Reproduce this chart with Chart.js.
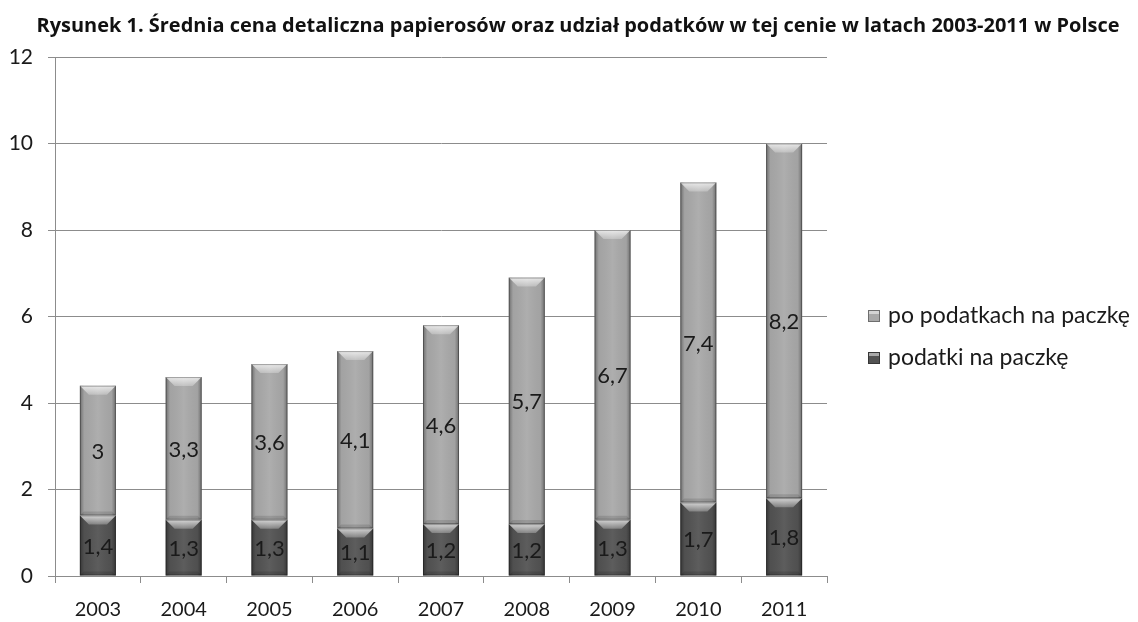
<!DOCTYPE html>
<html>
<head>
<meta charset="utf-8">
<script src="https://cdn.jsdelivr.net/npm/chart.js@4/dist/chart.umd.min.js"></script>
<style>
  html, body { margin: 0; padding: 0; background: #fff; }
  #wrap { width: 1138px; height: 622px; position: relative; }
</style>
</head>
<body>
<div id="wrap"><canvas id="chart" width="1138" height="622"></canvas></div>
<script>
// ===== DATA =====
const years = ["2003", "2004", "2005", "2006", "2007", "2008", "2009", "2010", "2011"];
const taxes = [1.4, 1.3, 1.3, 1.1, 1.2, 1.2, 1.3, 1.7, 1.8];          // podatki na paczkę
const afterTaxes = [3, 3.3, 3.6, 4.1, 4.6, 5.7, 6.7, 7.4, 8.2];       // po podatkach na paczkę
const titleText = "Rysunek 1. Średnia cena detaliczna papierosów oraz udział podatków w tej cenie w latach 2003-2011 w Polsce";

const labelFont = "Lato, 'Open Sans', sans-serif";

// bevel look like the office 3d bars
const bevelPlugin = {
  id: "bevel",
  afterDatasetDraw(chart, args) {
    const ctx = chart.ctx;
    const meta = args.meta;
    meta.data.forEach((bar) => {
      const w = bar.width;
      const left = bar.x - w / 2;
      const top = Math.min(bar.y, bar.base);
      const h = Math.abs(bar.base - bar.y);
      const b = Math.min(9, h / 2);
      ctx.save();
      // side shading
      const g = ctx.createLinearGradient(left, 0, left + w, 0);
      g.addColorStop(0, "rgba(0,0,0,0.35)");
      g.addColorStop(0.12, "rgba(0,0,0,0.04)");
      g.addColorStop(0.5, "rgba(255,255,255,0.06)");
      g.addColorStop(0.88, "rgba(0,0,0,0.04)");
      g.addColorStop(1, "rgba(0,0,0,0.35)");
      ctx.fillStyle = g;
      ctx.fillRect(left, top, w, h);
      // top bevel
      const tg = ctx.createLinearGradient(0, top, 0, top + b);
      tg.addColorStop(0, "rgba(255,255,255,0.75)");
      tg.addColorStop(1, "rgba(255,255,255,0.25)");
      ctx.beginPath();
      ctx.moveTo(left, top);
      ctx.lineTo(left + w, top);
      ctx.lineTo(left + w - b, top + b);
      ctx.lineTo(left + b, top + b);
      ctx.closePath();
      ctx.fillStyle = tg;
      ctx.fill();
      // bottom bevel
      ctx.beginPath();
      ctx.moveTo(left, top + h);
      ctx.lineTo(left + w, top + h);
      ctx.lineTo(left + w - 4, top + h - 4);
      ctx.lineTo(left + 4, top + h - 4);
      ctx.closePath();
      ctx.fillStyle = "rgba(0,0,0,0.12)";
      ctx.fill();
      ctx.strokeStyle = "rgba(0,0,0,0.3)";
      ctx.lineWidth = 1;
      ctx.strokeRect(left + 0.5, top + 0.5, w - 1, h - 1);
      ctx.restore();
    });
  },
};

// value labels in the middle of each segment
const valueLabels = {
  id: "valueLabels",
  afterDatasetsDraw(chart) {
    const ctx = chart.ctx;
    ctx.save();
    ctx.font = "22px " + labelFont;
    ctx.fillStyle = "#1a1a1a";
    ctx.textAlign = "center";
    ctx.textBaseline = "middle";
    chart.data.datasets.forEach((ds, i) => {
      const meta = chart.getDatasetMeta(i);
      meta.data.forEach((bar, j) => {
        const txt = String(ds.data[j]).replace(".", ",");
        ctx.fillText(txt, bar.x, (bar.y + bar.base) / 2 + 1);
      });
    });
    ctx.restore();
  },
};

// title centred on the whole canvas, plus legend on the right (top series first)
const sideLegend = {
  id: "sideLegend",
  afterDraw(chart) {
    const ctx = chart.ctx;
    const area = chart.chartArea;
    ctx.save();
    // narrow bold title, squeezed like the original Calibri
    ctx.font = "bold 20px 'Open Sans', sans-serif";
    ctx.fillStyle = "#111";
    ctx.textAlign = "center";
    ctx.textBaseline = "middle";
    ctx.fillText(titleText, 578, 26, 1083);

    const x = area.right + 41;
    const y0 = 316;
    ctx.font = "23px " + labelFont;
    ctx.textAlign = "left";
    const items = chart.data.datasets.slice().reverse();
    items.forEach((ds, i) => {
      const y = y0 + i * 42;
      ctx.fillStyle = ds.backgroundColor;
      ctx.fillRect(x, y - 6, 12, 12);
      ctx.strokeStyle = "rgba(0,0,0,0.35)";
      ctx.strokeRect(x + 0.5, y - 5.5, 11, 11);
      ctx.fillStyle = "rgba(255,255,255,0.5)";
      ctx.fillRect(x + 1, y - 5, 10, 3);
      ctx.fillStyle = "#1a1a1a";
      ctx.fillText(ds.label, x + 20, y);
    });
    ctx.restore();
  },
};

new Chart(document.getElementById("chart"), {
  type: "bar",
  data: {
    labels: years,
    datasets: [
      {
        label: "podatki na paczkę",
        data: taxes,
        backgroundColor: "#535353",
        barPercentage: 0.84,
        categoryPercentage: 0.5,
      },
      {
        label: "po podatkach na paczkę",
        data: afterTaxes,
        backgroundColor: "#a9a9a9",
        barPercentage: 0.84,
        categoryPercentage: 0.5,
      },
    ],
  },
  options: {
    responsive: false,
    animation: false,
    layout: { padding: { left: 0, right: 311, top: 57, bottom: 0 } },
    scales: {
      x: {
        stacked: true,
        grid: { display: true, drawOnChartArea: false, drawTicks: true, tickLength: 7, color: "#8c8c8c", offset: true },
        border: { color: "#8c8c8c" },
        ticks: { color: "#1a1a1a", font: { size: 20, family: labelFont }, padding: 15 },
        afterFit: (scale) => { scale.height = 46; },
      },
      y: {
        stacked: true,
        min: 0,
        max: 12,
        ticks: { stepSize: 2, color: "#1a1a1a", font: { size: 21, family: labelFont }, padding: 15 },
        grid: { color: "#8c8c8c", tickLength: 7 },
        border: { color: "#8c8c8c" },
        afterFit: (scale) => { scale.width = 55; },
      },
    },
    plugins: {
      title: { display: false },
      legend: { display: false },
      tooltip: { enabled: false },
    },
  },
  plugins: [bevelPlugin, valueLabels, sideLegend],
});
</script>
</body>
</html>
